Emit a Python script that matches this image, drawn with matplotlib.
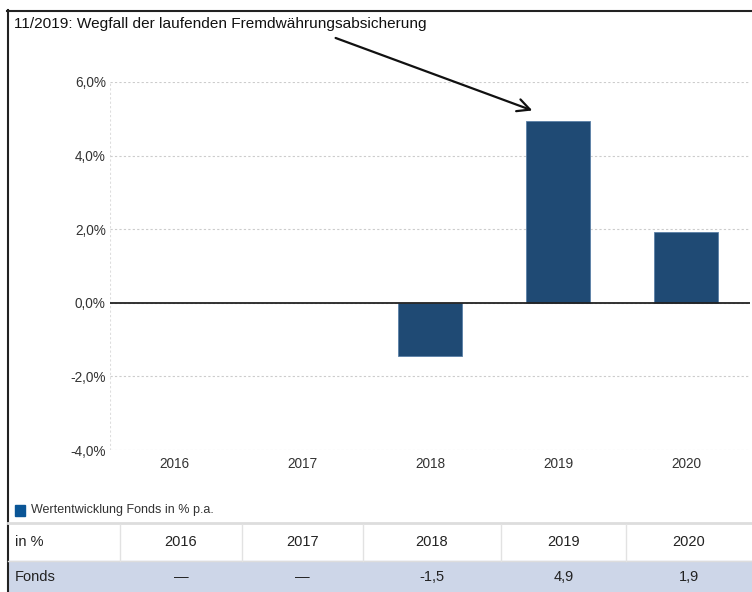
import numpy as np
import matplotlib.pyplot as plt
from matplotlib.patches import Rectangle
from matplotlib.lines import Line2D

plt.rcParams['font.family'] = ['Liberation Sans', 'DejaVu Sans']

jahre = ['2016', '2017', '2018', '2019', '2020']
werte = [np.nan, np.nan, -1.45, 4.95, 1.93]   # Balken, aus dem Bild gelesen
tabelle = ['—', '—', '-1,5', '4,9', '1,9']      # Tabellenzeile "Fonds"
yticks = [-4, -2, 0, 2, 4, 6]
titel = '11/2019: Wegfall der laufenden Fremdwährungsabsicherung'
legende = 'Wertentwicklung Fonds in % p.a.'

W, H = 752, 592
fig = plt.figure(figsize=(W / 100, H / 100), dpi=100)

def fx(px):
    return px / W

def fy(py):
    return 1 - py / H

# Diagramm
ax = fig.add_axes([fx(110), fy(450), fx(750) - fx(110), fy(82) - fy(450)])
x = np.arange(len(jahre))
ax.bar(x, werte, width=0.5, color='#1f4a74', edgecolor='#5a7fa6', linewidth=0.6, zorder=3)
ax.set_xlim(-0.5, len(jahre) - 0.5)
ax.set_ylim(-4, 6)
ax.set_yticks(yticks)
ax.yaxis.set_major_formatter(plt.FuncFormatter(lambda v, p: ('%.1f%%' % v).replace('.', ',')))
ax.set_xticks(x)
ax.set_xticklabels(jahre)
ax.tick_params(length=0, labelsize=9.8, colors='#333333')
ax.tick_params(axis='y', pad=3)
ax.tick_params(axis='x', pad=5)
for s in ax.spines.values():
    s.set_visible(False)
ax.grid(axis='y', color='#cccccc', linestyle=(0, (2, 2)), linewidth=0.8, zorder=0)
ax.axvline(-0.5, color='#dddddd', linestyle=(0, (2, 2)), linewidth=0.8, zorder=0)
ax.axhline(0, color='#222222', linewidth=1.3, zorder=4)

# Rahmen links und oben
fig.add_artist(Line2D([fx(7.5), fx(7.5)], [0, fy(10)], color='#222222', linewidth=1.5))
fig.add_artist(Line2D([fx(7), 1], [fy(10.5), fy(10.5)], color='#222222', linewidth=1.5))

# Titel und Pfeil
fig.text(fx(14), fy(24), titel, fontsize=11.1, color='#111111', va='center', ha='left')
ax.annotate('', xy=(2.82, 5.2), xycoords='data', xytext=(fx(333), fy(37)), textcoords='figure fraction',
            arrowprops=dict(arrowstyle='->,head_length=0.9,head_width=0.45', color='#111111', lw=1.6),
            annotation_clip=False)

# Legende
fig.add_artist(Rectangle((fx(15), fy(516)), fx(10), fy(505) - fy(516), color='#0a5596'))
fig.text(fx(31), fy(510.5), legende, fontsize=9, color='#333333', va='center', ha='left')

# Tabelle
spalten = [8, 120, 242, 363, 501, 626, 752]
fig.add_artist(Rectangle((fx(8), 0), 1 - fx(8), fy(561), color='#cdd6e8'))
fig.add_artist(Line2D([fx(8), 1], [fy(523), fy(523)], color='#dddddd', linewidth=2))
fig.add_artist(Line2D([fx(8), 1], [fy(561), fy(561)], color='#dddddd', linewidth=1))
for c in spalten[1:-1]:
    fig.add_artist(Line2D([fx(c), fx(c)], [fy(561), fy(524)], color='#e2e2e2', linewidth=1))
fig.text(fx(15), fy(542), 'in %', fontsize=10.5, color='#222222', va='center', ha='left')
fig.text(fx(15), fy(577), 'Fonds', fontsize=10.5, color='#222222', va='center', ha='left')
for i, j in enumerate(jahre):
    mitte = (spalten[i + 1] + spalten[i + 2]) / 2
    fig.text(fx(mitte), fy(542), j, fontsize=10.5, color='#222222', va='center', ha='center')
    fig.text(fx(mitte), fy(577), tabelle[i], fontsize=10.5, color='#222222', va='center', ha='center')

fig.savefig('out.png', dpi=100)
